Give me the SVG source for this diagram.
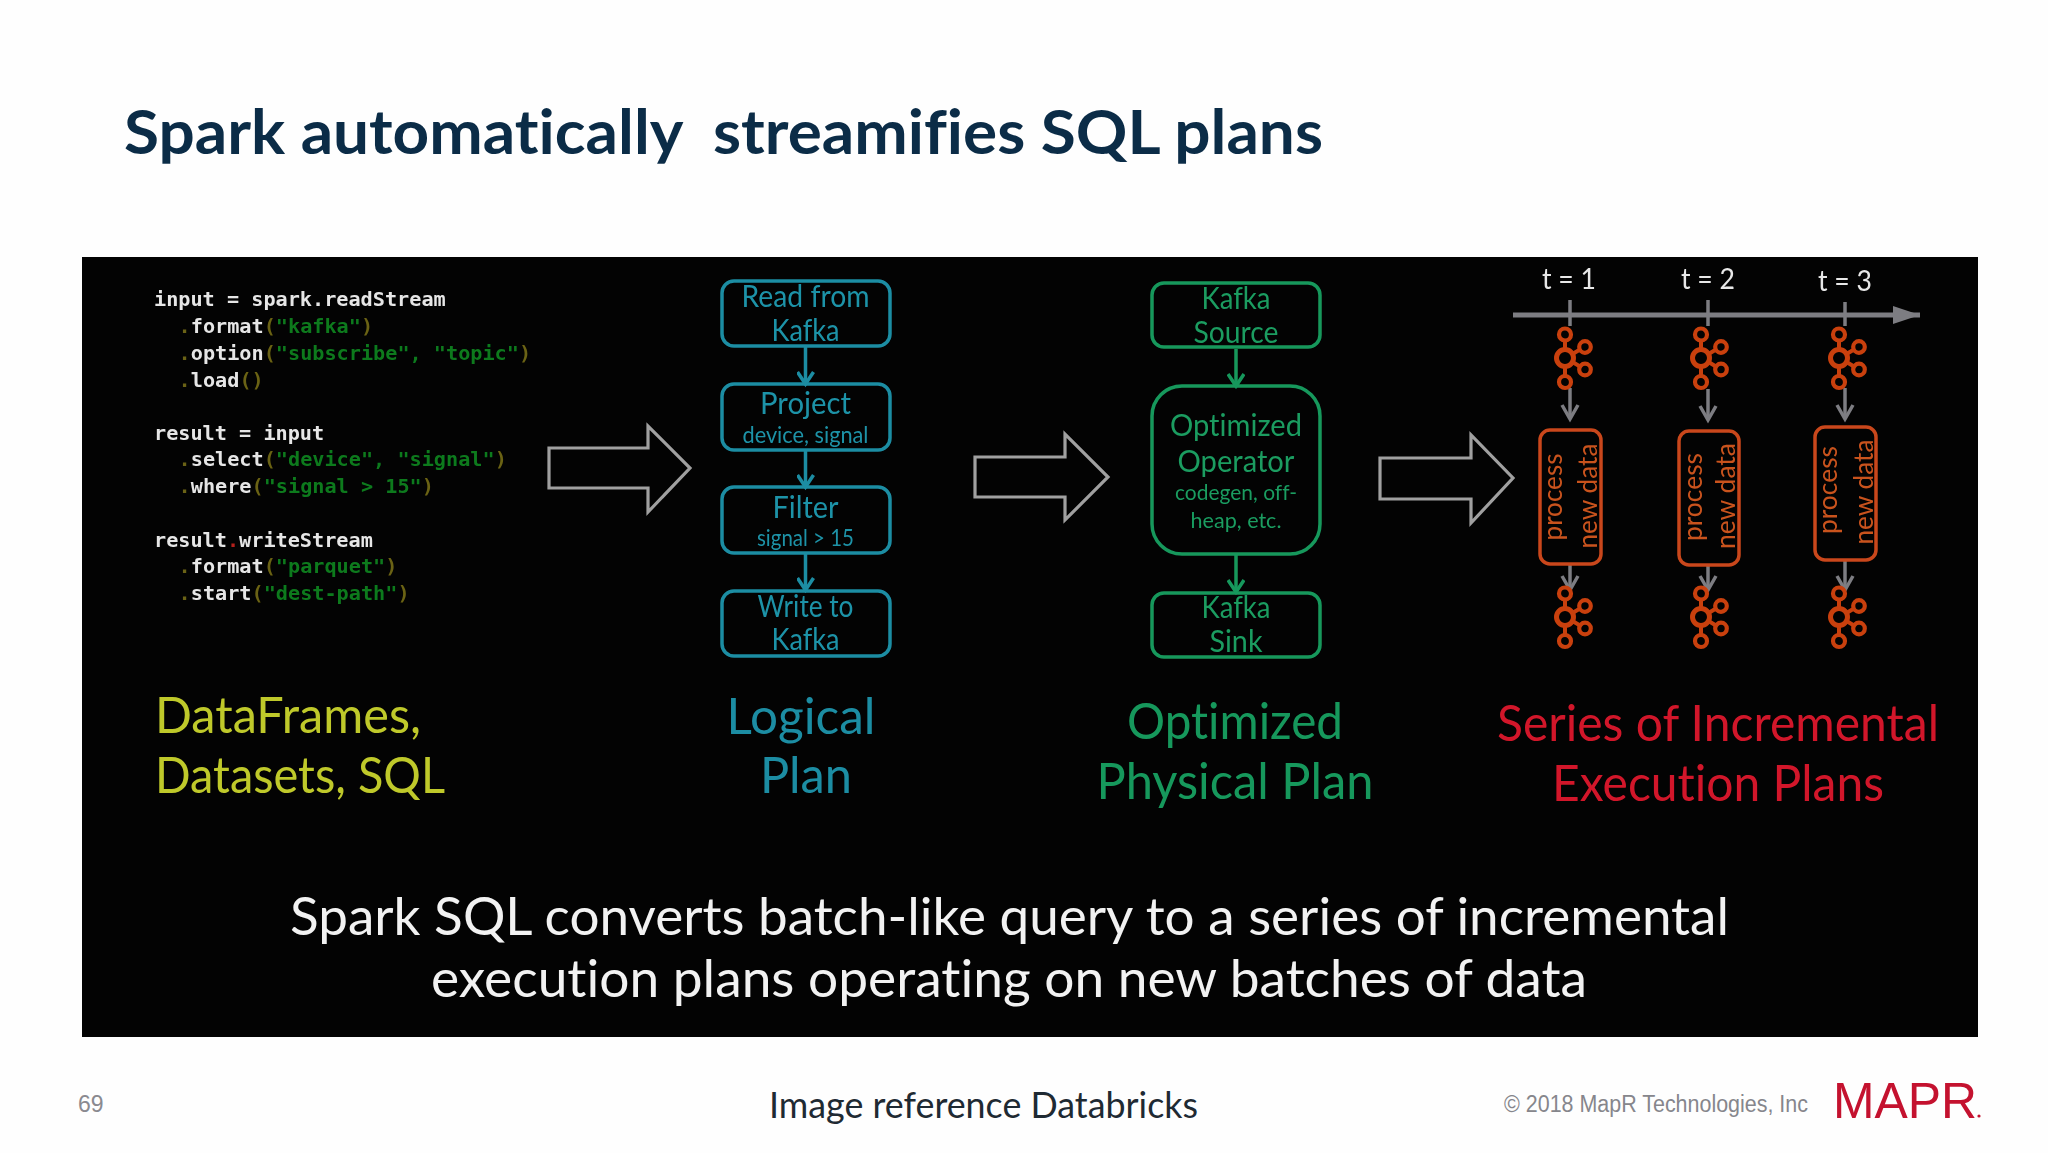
<svg xmlns="http://www.w3.org/2000/svg" width="2048" height="1153" viewBox="0 0 2048 1153">
<style>
text{font-family:Lato,"Noto Sans",sans-serif;white-space:pre;font-variant-ligatures:none}
.m{text-anchor:middle}
.code text{font-family:"DejaVu Sans Mono","Liberation Mono",monospace;font-size:20.2px;font-weight:700;fill:#e6e6e6}
.code .s{fill:#0c7a1e}.code .p{fill:#6a6212}
.tb{fill:none;stroke:#1c8da3;stroke-width:3.5}
.tt{fill:#1f93a8;font-size:30px}.tts{fill:#1f93a8;font-size:23px}
.gb{fill:none;stroke:#17985c;stroke-width:3.5}
.gt{fill:#1a9c60;font-size:30px}.gts{fill:#1a9c60;font-size:22px}
.ob{fill:none;stroke:#c9471a;stroke-width:3.5}
.ot{fill:#c9531f;font-size:27px}
.big{fill:none;stroke:#a0a0a0;stroke-width:3.2}
.tl{fill:#e8e8e8;font-size:28px}
.lab{font-size:50px}
.sent{fill:#f2f2f2;font-size:52px}
</style>
<defs>
<filter id="soft" x="0" y="0" width="1" height="1"><feGaussianBlur stdDeviation="0.55"/></filter>
<marker id="at" markerUnits="userSpaceOnUse" markerWidth="22" markerHeight="18" refX="13" refY="9" orient="auto"><path d="M1 1L13 9L1 17" fill="none" stroke="#1c8da3" stroke-width="3.5"/></marker>
<marker id="ag" markerUnits="userSpaceOnUse" markerWidth="22" markerHeight="18" refX="13" refY="9" orient="auto"><path d="M1 1L13 9L1 17" fill="none" stroke="#17985c" stroke-width="3.5"/></marker>
<marker id="ay" markerUnits="userSpaceOnUse" markerWidth="22" markerHeight="20" refX="15" refY="10" orient="auto"><path d="M1 2L15 10L1 18" fill="none" stroke="#7d7d82" stroke-width="3.5"/></marker>
<marker id="af" markerUnits="userSpaceOnUse" markerWidth="30" markerHeight="20" refX="27" refY="9" orient="auto"><path d="M0 0L27 9L0 18Z" fill="#7d7d82"/></marker>
<g id="kafka" fill="none" stroke="#c9400f">
<g stroke-width="4.2"><circle cx="0" cy="-23.5" r="6"/><circle cx="0" cy="24" r="6"/><circle cx="20" cy="-11" r="5.8"/><circle cx="20" cy="11.5" r="5.8"/></g>
<circle r="8.5" stroke-width="5"/>
<path d="M0-17.5V-8.5M0 8.5V18M7.5-4L15-8.5M7.5 4L15 8.5" stroke-width="4"/>
</g>
</defs>

<rect width="2048" height="1153" fill="#fefefe"/>
<text id="title" x="124" y="154" font-size="62" font-weight="700" fill="#0b2c47" textLength="1199" lengthAdjust="spacingAndGlyphs">Spark automatically  streamifies SQL plans</text>

<rect id="panel" x="82" y="257" width="1896" height="780" fill="#030303"/>

<g filter="url(#soft)">
<g id="code" class="code">
<text x="154" y="306">input = spark.readStream</text>
<text x="178.6" y="333"><tspan class="p">.</tspan>format<tspan class="p">(</tspan><tspan class="s">"kafka"</tspan><tspan class="p">)</tspan></text>
<text x="178.6" y="360"><tspan class="p">.</tspan>option<tspan class="p">(</tspan><tspan class="s">"subscribe", "topic"</tspan><tspan class="p">)</tspan></text>
<text x="178.6" y="387"><tspan class="p">.</tspan>load<tspan class="p">()</tspan></text>
<text x="154" y="440">result = input</text>
<text x="178.6" y="466"><tspan class="p">.</tspan>select<tspan class="p">(</tspan><tspan class="s">"device", "signal"</tspan><tspan class="p">)</tspan></text>
<text x="178.6" y="493"><tspan class="p">.</tspan>where<tspan class="p">(</tspan><tspan class="s">"signal &gt; 15"</tspan><tspan class="p">)</tspan></text>
<text x="154" y="547">result<tspan fill="#b3201c">.</tspan>writeStream</text>
<text x="178.6" y="573"><tspan class="p">.</tspan>format<tspan class="p">(</tspan><tspan class="s">"parquet"</tspan><tspan class="p">)</tspan></text>
<text x="178.6" y="600"><tspan class="p">.</tspan>start<tspan class="p">(</tspan><tspan class="s">"dest-path"</tspan><tspan class="p">)</tspan></text>
</g>

<g id="connectors">
<path class="big" d="M549 448H648V426L690 468L648 512V488H549Z"/>
<path class="big" d="M975 457H1065V434L1108 477L1065 520V497H975Z"/>
<path class="big" d="M1380 458H1471V435L1513 478L1471 523V499H1380Z"/>
<g fill="none" stroke="#1c8da3" stroke-width="3.5" marker-end="url(#at)">
<path d="M805.5 347V384"/><path d="M805.5 450V487"/><path d="M805.5 553V590"/>
</g>
<g fill="none" stroke="#17985c" stroke-width="3.5" marker-end="url(#ag)">
<path d="M1236 349V386"/><path d="M1236 555V592"/>
</g>
<path d="M1513 315H1920" stroke="#7d7d82" stroke-width="5" fill="none" marker-end="url(#af)"/>
<g fill="none" stroke="#7d7d82" stroke-width="3.5">
<path d="M1570 300V326M1708 300V326M1845 302V326"/>
<g marker-end="url(#ay)">
<path d="M1570 388V419"/><path d="M1708 389V420"/><path d="M1845 388V419"/>
<path d="M1570 565V590"/><path d="M1708 566V590"/><path d="M1845 561V590"/>
</g>
</g>
</g>

<g id="read-kafka"><rect class="tb" x="722" y="281" width="168" height="65" rx="12"/><text class="tt m" x="805.5" y="307" textLength="128" lengthAdjust="spacingAndGlyphs">Read from</text><text class="tt m" x="805.5" y="341" textLength="68" lengthAdjust="spacingAndGlyphs">Kafka</text></g>
<g id="project"><rect class="tb" x="722" y="384" width="168" height="66" rx="12"/><text class="tt m" x="805.5" y="414" textLength="91" lengthAdjust="spacingAndGlyphs">Project</text><text class="tts m" x="805.5" y="443" textLength="126" lengthAdjust="spacingAndGlyphs">device, signal</text></g>
<g id="filter"><rect class="tb" x="722" y="487" width="168" height="66" rx="12"/><text class="tt m" x="805.5" y="518" textLength="66" lengthAdjust="spacingAndGlyphs">Filter</text><text class="tts m" x="805.5" y="546" textLength="97" lengthAdjust="spacingAndGlyphs">signal &gt; 15</text></g>
<g id="write-kafka"><rect class="tb" x="722" y="591" width="168" height="65" rx="12"/><text class="tt m" x="805.5" y="617" textLength="96" lengthAdjust="spacingAndGlyphs">Write to</text><text class="tt m" x="805.5" y="650" textLength="68" lengthAdjust="spacingAndGlyphs">Kafka</text></g>

<g id="kafka-source"><rect class="gb" x="1152" y="283" width="168" height="64" rx="12"/><text class="gt m" x="1236" y="309" textLength="69" lengthAdjust="spacingAndGlyphs">Kafka</text><text class="gt m" x="1236" y="343" textLength="85" lengthAdjust="spacingAndGlyphs">Source</text></g>
<g id="optimized-operator"><rect class="gb" x="1152" y="386" width="168" height="168" rx="30"/><text class="gt m" x="1236" y="436" textLength="132" lengthAdjust="spacingAndGlyphs">Optimized</text><text class="gt m" x="1236" y="472" textLength="117" lengthAdjust="spacingAndGlyphs">Operator</text><text class="gts m" x="1236" y="500" textLength="122" lengthAdjust="spacingAndGlyphs">codegen, off-</text><text class="gts m" x="1236" y="528" textLength="91" lengthAdjust="spacingAndGlyphs">heap, etc.</text></g>
<g id="kafka-sink"><rect class="gb" x="1152" y="593" width="168" height="64" rx="12"/><text class="gt m" x="1236" y="618" textLength="69" lengthAdjust="spacingAndGlyphs">Kafka</text><text class="gt m" x="1236" y="652" textLength="53" lengthAdjust="spacingAndGlyphs">Sink</text></g>

<g id="t1"><text class="tl m" x="1569" y="289" textLength="54" lengthAdjust="spacingAndGlyphs">t = 1</text><use href="#kafka" x="1565" y="358"/><use href="#kafka" x="1565" y="617"/>
<rect class="ob" x="1540" y="430" width="61" height="134" rx="10"/>
<text class="ot m" transform="translate(1562 497) rotate(-90)" textLength="87" lengthAdjust="spacingAndGlyphs">process</text><text class="ot m" transform="translate(1597 496) rotate(-90)" textLength="105" lengthAdjust="spacingAndGlyphs">new data</text></g>
<g id="t2"><text class="tl m" x="1708" y="289" textLength="54" lengthAdjust="spacingAndGlyphs">t = 2</text><use href="#kafka" x="1701" y="358"/><use href="#kafka" x="1701" y="617"/>
<rect class="ob" x="1679" y="431" width="60" height="134" rx="10"/>
<text class="ot m" transform="translate(1702 497) rotate(-90)" textLength="88" lengthAdjust="spacingAndGlyphs">process</text><text class="ot m" transform="translate(1735 496) rotate(-90)" textLength="106" lengthAdjust="spacingAndGlyphs">new data</text></g>
<g id="t3"><text class="tl m" x="1845" y="291" textLength="54" lengthAdjust="spacingAndGlyphs">t = 3</text><use href="#kafka" x="1839" y="358"/><use href="#kafka" x="1839" y="617"/>
<rect class="ob" x="1815" y="427" width="61" height="133" rx="10"/>
<text class="ot m" transform="translate(1837 490) rotate(-90)" textLength="88" lengthAdjust="spacingAndGlyphs">process</text><text class="ot m" transform="translate(1873 492) rotate(-90)" textLength="105" lengthAdjust="spacingAndGlyphs">new data</text></g>

<g id="labels" class="lab">
<g fill="#bfc92b"><text x="155" y="733" textLength="266" lengthAdjust="spacingAndGlyphs">DataFrames,</text><text x="155" y="793" textLength="290" lengthAdjust="spacingAndGlyphs">Datasets, SQL</text></g>
<g fill="#1c8da3" class="m"><text x="801" y="734" textLength="149" lengthAdjust="spacingAndGlyphs">Logical</text><text x="806" y="793" textLength="92" lengthAdjust="spacingAndGlyphs">Plan</text></g>
<g fill="#17985c" class="m"><text x="1235" y="739" textLength="216" lengthAdjust="spacingAndGlyphs">Optimized</text><text x="1235" y="799" textLength="277" lengthAdjust="spacingAndGlyphs">Physical Plan</text></g>
<g fill="#d2182a" class="m"><text x="1718" y="741" textLength="442" lengthAdjust="spacingAndGlyphs">Series of Incremental</text><text x="1718" y="801" textLength="332" lengthAdjust="spacingAndGlyphs">Execution Plans</text></g>
</g>
<g id="caption" class="sent">
<text x="290" y="935" textLength="1439" lengthAdjust="spacingAndGlyphs">Spark SQL converts batch-like query to a series of incremental</text>
<text x="431" y="997" textLength="1156" lengthAdjust="spacingAndGlyphs">execution plans operating on new batches of data</text>
</g>
</g>

<g id="footer">
<text x="78" y="1112" font-size="23" fill="#8a8a90" style="font-family:'Liberation Sans',sans-serif">69</text>
<text x="769" y="1118" font-size="36" fill="#1f2a33" textLength="429" lengthAdjust="spacingAndGlyphs">Image reference Databricks</text>
<text x="1504" y="1112" font-size="23" fill="#86868c" textLength="304" lengthAdjust="spacingAndGlyphs" style="font-family:'Liberation Sans',sans-serif">© 2018 MapR Technologies, Inc</text>
<text x="1833" y="1118" font-size="50" fill="#c4122f" textLength="144" lengthAdjust="spacingAndGlyphs" style="font-family:'Liberation Sans',sans-serif">MAPR</text>
<circle cx="1979" cy="1116" r="1.6" fill="#c4122f"/>
</g>
</svg>
